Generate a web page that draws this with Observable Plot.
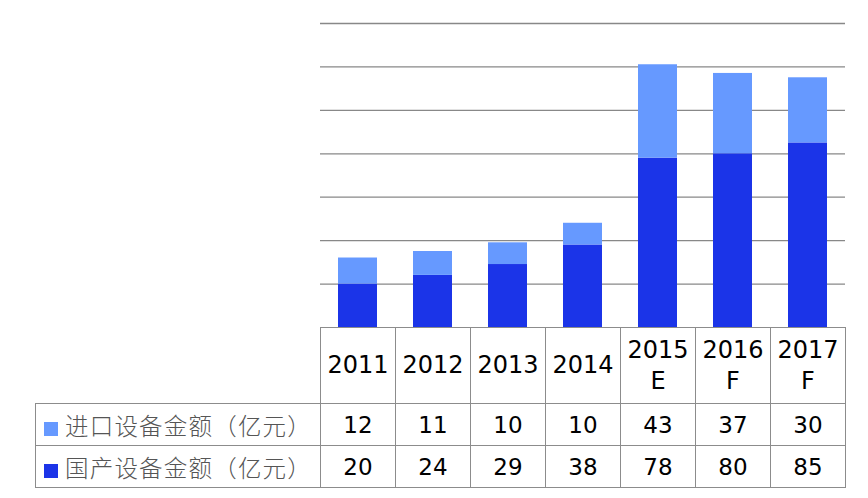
<!DOCTYPE html>
<html>
<head>
<meta charset="utf-8">
<script src="https://cdn.jsdelivr.net/npm/d3@7"></script>
<script src="https://cdn.jsdelivr.net/npm/@observablehq/plot@0.6"></script>
<style>
  html, body { margin: 0; padding: 0; background: #fff; }
  #wrap { position: relative; width: 868px; height: 498px; }
  #chart { position: absolute; left: 0; top: 0; }
  table { position: absolute; left: 35px; top: 327px; border-collapse: collapse; table-layout: fixed; }
  td { border: 1px solid #8c8c8c; text-align: center; padding: 0; font-family: "DejaVu Sans", Verdana, sans-serif; color: #000; }
  td.lab { text-align: left; font-family: "Noto Sans CJK SC", sans-serif; font-size: 23.5px; color: #555; font-weight: 300; padding-left: 8px; white-space: nowrap; letter-spacing: 1.2px; }
  td.blank { border-top: none; border-left: none; }
  .sw { display: inline-block; width: 14px; height: 14px; margin-right: 7px; vertical-align: -1px; }
</style>
</head>
<body>
<div id="wrap">
  <div id="chart"></div>
  <table id="tbl"></table>
</div>
<script>
const years = ["2011", "2012", "2013", "2014", "2015E", "2016F", "2017F"];
const yearLabels = ["2011", "2012", "2013", "2014", "2015<br>E", "2016<br>F", "2017<br>F"];
const seriesNames = ["国产设备金额（亿元）", "进口设备金额（亿元）"];
const importValues = [12, 11, 10, 10, 43, 37, 30];
const domesticValues = [20, 24, 29, 38, 78, 80, 85];
const gridTicks = [20, 40, 60, 80, 100, 120, 140];
const colors = ["#1b34e8", "#6699ff"];

const data = [];
years.forEach((y, i) => {
  data.push({year: y, series: seriesNames[0], value: domesticValues[i]});
  data.push({year: y, series: seriesNames[1], value: importValues[i]});
});

const plot = Plot.plot({
  width: 868,
  height: 328,
  marginLeft: 320,
  marginRight: 23,
  marginTop: 23,
  marginBottom: 1,
  x: {domain: years, paddingInner: 0.48, paddingOuter: 0.24, axis: null},
  y: {domain: [0, 140], axis: null},
  color: {domain: seriesNames, range: colors},
  marks: [
    Plot.ruleY(gridTicks, {stroke: "#888", strokeWidth: 1.3}),
    Plot.barY(data, {x: "year", y: "value", fill: "series", order: seriesNames})
  ]
});
document.getElementById("chart").appendChild(plot);

// data table
const tbl = document.getElementById("tbl");
const colg = document.createElement("colgroup");
let c0 = document.createElement("col"); c0.style.width = "285px"; colg.appendChild(c0);
years.forEach(() => { const c = document.createElement("col"); c.style.width = "75px"; colg.appendChild(c); });
tbl.appendChild(colg);

const hr = document.createElement("tr");
hr.style.height = "76px";
const hb = document.createElement("td"); hb.className = "blank"; hr.appendChild(hb);
yearLabels.forEach(l => {
  const td = document.createElement("td");
  td.innerHTML = l;
  td.style.fontSize = "24px";
  td.style.lineHeight = "31px";
  hr.appendChild(td);
});
tbl.appendChild(hr);

const rows = [
  {name: seriesNames[1], color: colors[1], vals: importValues},
  {name: seriesNames[0], color: colors[0], vals: domesticValues}
];
rows.forEach(r => {
  const tr = document.createElement("tr");
  tr.style.height = "42px";
  const lab = document.createElement("td");
  lab.className = "lab";
  lab.innerHTML = `<span class="sw" style="background:${r.color}"></span>${r.name}`;
  tr.appendChild(lab);
  r.vals.forEach(v => {
    const td = document.createElement("td");
    td.textContent = v;
    td.style.fontSize = "23px";
    tr.appendChild(td);
  });
  tbl.appendChild(tr);
});
</script>
</body>
</html>
